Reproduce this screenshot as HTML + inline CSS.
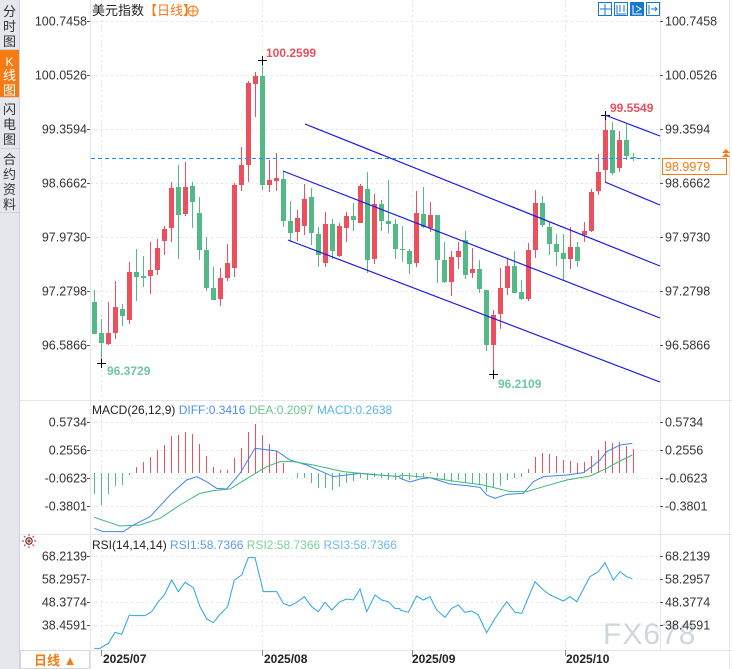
<!DOCTYPE html>
<html><head><meta charset="utf-8">
<style>
html,body{margin:0;padding:0;background:#fff;width:732px;height:669px;overflow:hidden}
svg{display:block}
text{font-family:"Liberation Sans","Noto Sans CJK SC",sans-serif}
</style></head>
<body>
<svg id="s" width="732" height="669" xmlns="http://www.w3.org/2000/svg">
<rect x="0" y="0" width="732" height="669" fill="#fff"/>
<rect x="0" y="0" width="19" height="669" fill="#e6e7ec"/>
<line x1="19.5" y1="0" x2="19.5" y2="669" stroke="#d0d3da"/>
<rect x="0" y="50" width="19" height="47" fill="#f77a12"/>
<g font-size="13" fill="#333" text-anchor="middle">
<text x="9.5" y="16">分</text><text x="9.5" y="31">时</text><text x="9.5" y="46">图</text>
<text x="9.5" y="66" fill="#fff" font-size="12">K</text><text x="9.5" y="80" fill="#fff">线</text><text x="9.5" y="95" fill="#fff">图</text>
<text x="9.5" y="114">闪</text><text x="9.5" y="129">电</text><text x="9.5" y="144">图</text>
<text x="9.5" y="164">合</text><text x="9.5" y="179">约</text><text x="9.5" y="194">资</text><text x="9.5" y="209">料</text>
</g>
<line x1="0" y1="49.5" x2="19" y2="49.5" stroke="#cfd2d8"/>
<line x1="0" y1="97.5" x2="19" y2="97.5" stroke="#cfd2d8"/>
<line x1="0" y1="148.5" x2="19" y2="148.5" stroke="#cfd2d8"/>
<line x1="0" y1="212.5" x2="19" y2="212.5" stroke="#cfd2d8"/>
<line x1="90.5" y1="0" x2="90.5" y2="669" stroke="#e3e6ea"/>
<line x1="660.5" y1="0" x2="660.5" y2="650" stroke="#e3e6ea"/>
<line x1="20" y1="400.5" x2="732" y2="400.5" stroke="#e3e6ea"/>
<line x1="20" y1="534.5" x2="732" y2="534.5" stroke="#e3e6ea"/>
<line x1="20" y1="650.5" x2="732" y2="650.5" stroke="#e3e6ea"/>
<line x1="729.5" y1="0" x2="729.5" y2="669" stroke="#e3e6ea"/>
<g id="grid" stroke="#e4e4e4" stroke-dasharray="2,3"></g>
<g id="plot"></g>
<text x="92" y="15" font-size="13" fill="#222">美元指数<tspan fill="#f77a12">【日线】</tspan></text>
<circle cx="193" cy="11" r="5" fill="none" stroke="#f77a12"/>
<line x1="188" y1="11" x2="198" y2="11" stroke="#f77a12"/><line x1="193" y1="6" x2="193" y2="16" stroke="#f77a12"/>
<g stroke="#1677d2" fill="none">
<rect x="598.5" y="2.5" width="13" height="13" fill="#fff"/>
<rect x="614.5" y="2.5" width="13" height="13" fill="#fff"/>
<rect x="630.5" y="2.5" width="13" height="13" fill="#1677d2"/>
<rect x="646.5" y="2.5" width="13" height="13" fill="#fff"/>
<path d="M605 4v11M600 9h11"/><path d="M617 5v9h9M620 5v7M624 5v7"/><path d="M633 5v9h9M636 6l5 3-5 3" stroke="#fff"/><path d="M649 5v9M651 9h6M655 7l2 2-2 2"/>
</g>
<text x="92" y="414" font-size="12" fill="#222">MACD(26,12,9) <tspan fill="#4a8ff0">DIFF:0.3416</tspan> <tspan fill="#6cc58f">DEA:0.2097</tspan> <tspan fill="#5ab6ea">MACD:0.2638</tspan></text>
<text x="92" y="549" font-size="12" fill="#222">RSI(14,14,14) <tspan fill="#5b9cf0">RSI1:58.7366</tspan> <tspan fill="#7dd19c">RSI2:58.7366</tspan> <tspan fill="#6fb9ec">RSI3:58.7366</tspan></text>
<g stroke="#e22" fill="none"><circle cx="29" cy="541" r="3.2" stroke="#222"/><circle cx="29" cy="541" r="1.6" fill="#e22" stroke="none"/>
<path d="M29 534v2M29 546v2M22 541h2M34 541h2M24 536l1.5 1.5M32.5 544.5l1.5 1.5M24 546l1.5-1.5M32.5 537.5l1.5-1.5"/></g>
<rect x="20.5" y="650.5" width="69" height="18" fill="#fff" stroke="#d5d8de"/>
<text x="34" y="665" font-size="13" fill="#f77a12" font-weight="bold">日线 ▲</text>
<g font-size="12" font-weight="bold" fill="#222">
<text x="103" y="663">2025/07</text><text x="264" y="663">2025/08</text><text x="412" y="663">2025/09</text><text x="566" y="663">2025/10</text>
</g>
<g font-size="12" font-weight="bold">
<text x="266" y="57" fill="#ea4f5e">100.2599</text>
<text x="107" y="375" fill="#6fc6a2">96.3729</text>
<text x="610" y="112" fill="#ea4f5e">99.5549</text>
<text x="498" y="388" fill="#6fc6a2">96.2109</text>
</g>
<rect x="662.5" y="158.5" width="64" height="16" fill="#fff" stroke="#f77a12"/>
<text x="665" y="171" font-size="12.5" fill="#f77a12">98.9979</text>
<path d="M722 153l4-4 4 4zM722 157l4-4 4 4z" fill="#f77a12"/>
<text x="603" y="644" font-size="30" fill="#c5cdd8" opacity="0.8" letter-spacing="1">FX678</text>
</svg>
<script>
const S=document.getElementById('plot'),G=document.getElementById('grid'),svg=document.getElementById('s');
const NS='http://www.w3.org/2000/svg';
function el(p,t,a,txt){const e=document.createElementNS(NS,t);for(const k in a)e.setAttribute(k,a[k]);if(txt!==undefined)e.textContent=txt;p.appendChild(e);return e;}
const L=[["100.7458",21],["100.0526",75],["99.3594",129],["98.6662",183],["97.9730",237],["97.2798",291],["96.5866",345],
["0.5734",422],["0.2556",450],["-0.0623",478],["-0.3801",506],["68.2139",556],["58.2957",579],["48.3774",602],["38.4591",625]];
for(const [t,y] of L){
 el(G,'line',{x1:91,y1:y+.5,x2:660,y2:y+.5});
 el(svg,'text',{x:87,y:y+4.5,'font-size':12.5,fill:'#333','text-anchor':'end'},t);
 el(svg,'text',{x:665,y:y+4.5,'font-size':12.5,fill:'#333'},t);
 el(svg,'line',{x1:87,y1:y+.5,x2:90,y2:y+.5,stroke:'#555'});
 el(svg,'line',{x1:660,y1:y+.5,x2:663,y2:y+.5,stroke:'#555'});
}
for(const x of [101,262,412,565]){el(G,'line',{x1:x+.5,y1:0,x2:x+.5,y2:650});el(svg,'line',{x1:x+.5,y1:650,x2:x+.5,y2:656,stroke:'#888'});}
const C=`G302-334w290-334 G333-343w319-364 R333-344w302-345 R307-333w281-339 G309-316w304-326 R272-320w262-324 G272-277w249-301 G276-278w256-287 R270-276w242-294 R248-270w239-275 R229-241w226-255 R188-228w182-242 G187-215w165-259 R187-214w162-216 G186-202w182-228 G213-250w197-260 G250-288w237-291 G288-300w267-300 R278-299w268-306 R263-278w244-281 R185-268w183-277 R165-185w147-191 R83-165w81-182 R76-84w72-117 G76-185w59-190 R180-185w160-192 R178-181w153-191 G179-221w171-227 G221-233w201-242 R218-232w210-241 R199-226w184-235 G197-233w188-245 G234-255w227-267 R224-263w212-267 G224-251w219-259 R226-256w223-257 R216-228w212-242 G216-220w203-231 R186-223w184-223 G189-260w172-273 R204-259w194-264 G204-221w200-231 G221-224w180-233 G224-249w219-259 G249-250w226-262 G251-264w249-274 R213-263w191-267 G214-227w187-228 R215-228w202-232 G215-260w215-283 G260-282w242-283 R257-282w251-296 R251-257w242-269 G240-275w231-279 R269-273w248-278 G269-289w260-293 G290-345w290-351 R315-345w310-374 R288-314w268-329 R266-288w258-295 G266-293w251-293 G292-299w280-300 R250-299w243-301 R203-250w190-258 G203-225w196-227 G227-244w222-255 G244-252w234-266 G253-259w234-280 R247-259w227-269 G247-261w242-267 R231-235w222-242 R192-231w189-232 R172-191w154-195 R130-170w115-182 G130-173w122-175 R140-168w131-172 G140-156w123-160 G157-158w153-161`.split(' ');
C.forEach((s,i)=>{const m=s.match(/([RG])(\d+)-(\d+)w(\d+)-(\d+)/);const x=94+7*i;const col=m[1]=='R'?'#ec4f5d':'#52b987';
 el(S,'line',{x1:x+.5,y1:+m[4],x2:x+.5,y2:+m[5],stroke:col});
 el(S,'rect',{x:x-2,y:+m[2],width:5,height:Math.max(1,m[3]-m[2]),fill:col});});
for(const [x,y] of [[262,60],[101,363],[605,115],[493,374]]){el(S,'path',{d:`M${x-4} ${y+.5}h9M${x+.5} ${y-4}v9`,stroke:'#000'});}
for(const [a,b,c,d] of [[305,124,660,266],[283,171,660,318],[288,240,660,382],[605,115,660,136],[605,182,660,205]])
 el(S,'line',{x1:a,y1:b,x2:c,y2:d,stroke:'#1a1ae6','stroke-width':1.2});
el(S,'line',{x1:91,y1:158.5,x2:660,y2:158.5,stroke:'#1e88ff','stroke-dasharray':'4,3'});
el(S,'path',{d:'M630 158h7M633.5 155v6',stroke:'#52b987'});
const H=[494,505,494,486,485,475,467,462,457,450,445,436,435,432,434,444,456,467,470,470,458,448,432,424,435,444,451,463,473,478,478,483,488,488,490,487,483,481,478,480,477,478,480,480];
const H2=H.slice(0,44).concat([480,480,478,477,472,477,480,482,480,482,483,485,492,488,486,480,478,477,469,457,453,454,456,460,461,463,462,456,450,441,443,442,446,449]);
H2.forEach((y,i)=>{const x=94+7*i+.5;const z=473;if(Math.abs(y-z)<1)return;el(S,'line',{x1:x,y1:z,x2:x,y2:y,stroke:y<z?'#ec4f5d':'#52b987'});});
function pl(pts,col,w){el(S,'polyline',{points:pts.map(p=>p.join(',')).join(' '),fill:'none',stroke:col,'stroke-width':w||1});}
const z3=(a)=>a.map(([x,y])=>[x/3,395+y/3]), z7=(a)=>a.map(([x,y])=>[400+x/3,400+y/3]);
pl(z3([[283,400],[310,410],[370,410],[400,390],[450,365],[515,295],[560,255],[590,245],[620,260],[650,280],[680,282],[720,235],[765,160],[830,168],[870,195],[920,210],[1000,245],[1080,235],[1140,240],[1200,245]]).concat(z7([[0,235],[30,246],[60,237],[90,233],[150,252],[200,257],[240,262],[260,285],[285,295],[320,283],[370,280],[400,245],[430,230],[500,225],[550,218],[575,200],[600,180],[620,155],[660,135],[697,130]])),'#3d86f0');
pl(z3([[283,367],[360,393],[420,390],[480,370],[540,330],[600,295],[640,287],[690,282],[750,245],[800,215],[840,200],[880,200],[940,210],[1030,230],[1100,237],[1200,245]]).concat(z7([[0,225],[90,233],[150,242],[250,255],[330,275],[380,275],[430,260],[500,240],[570,228],[620,205],[660,183],[697,165]])),'#3cb87a');
pl(z3([[283,760],[300,760],[325,745],[345,712],[365,718],[388,660],[400,662],[435,662],[455,650],[475,620],[493,600],[515,555],[535,590],[555,562],[580,578],[600,635],[620,672],[640,683],[660,658],[683,635],[703,555],[725,540],[745,488],[765,488],[790,590],[830,590],[850,625],[870,633],[890,622],[913,605],[935,635],[955,650],[975,622],[995,645],[1020,620],[1040,612],[1060,615],[1080,582],[1100,650],[1125,600],[1145,615],[1165,620],[1185,640],[1200,641]]).concat(z7([[0,630],[25,637],[50,588],[70,600],[90,590],[110,630],[135,652],[155,625],[175,615],[195,637],[215,633],[235,645],[260,698],[285,655],[320,605],[345,637],[365,640],[405,545],[430,570],[450,585],[490,603],[510,590],[530,605],[570,530],[595,515],[615,488],[640,540],[660,515],[680,530],[697,536]])),'#29a6e6');
</script>
</body></html>
